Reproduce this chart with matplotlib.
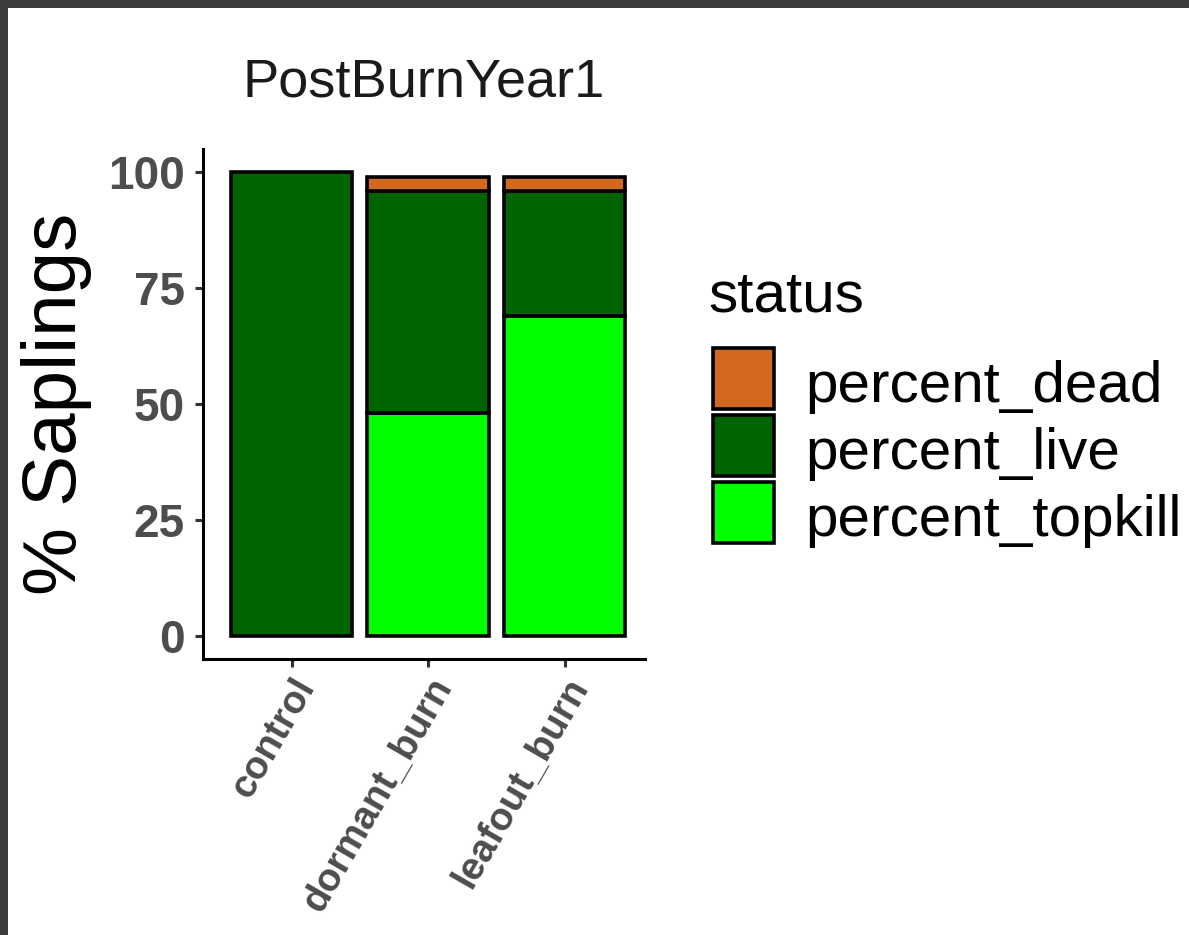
import matplotlib.pyplot as plt
from matplotlib.patches import Rectangle
import numpy as np

plt.rcParams['font.family'] = ['Liberation Sans', 'DejaVu Sans']

treatments = ["control", "dormant_burn", "leafout_burn"]
percent_topkill = [0, 48, 69]
percent_live = [100, 48, 27]
percent_dead = [0, 3, 3]

statuses = ["percent_dead", "percent_live", "percent_topkill"]
colours = {"percent_dead": "#D2691E", "percent_live": "#006400", "percent_topkill": "#00FF00"}

W, H = 1189, 935
fig = plt.figure(figsize=(W / 100, H / 100), dpi=100)

# screenshot frame (dark band top and left)
fig.patches.append(Rectangle((0, 1 - 8 / H), 1, 8 / H, transform=fig.transFigure,
                             facecolor="#3d3d3d", edgecolor="none", zorder=-1))
fig.patches.append(Rectangle((0, 0), 8 / W, 1, transform=fig.transFigure,
                             facecolor="#3d3d3d", edgecolor="none", zorder=-1))

ax = fig.add_axes([203 / W, 1 - 659 / H, 442 / W, 510 / H])

x = np.arange(len(treatments))
bottom = np.zeros(len(treatments))
stack = [("percent_topkill", percent_topkill), ("percent_live", percent_live), ("percent_dead", percent_dead)]
for name, vals in stack:
    vals = np.array(vals, dtype=float)
    keep = vals > 0
    ax.bar(x[keep], vals[keep], bottom=bottom[keep], width=0.89, color=colours[name],
           edgecolor="black", linewidth=2.6, zorder=2)
    bottom = bottom + vals

ax.set_xlim(-0.65, len(treatments) - 0.41)
ax.set_ylim(-5, 105)
ax.set_yticks([0, 25, 50, 75, 100])
ax.set_xticks(x)
ax.set_xticklabels(treatments, rotation=60, ha="right", va="top", rotation_mode="anchor")

for s in ["top", "right"]:
    ax.spines[s].set_visible(False)
for s in ["left", "bottom"]:
    ax.spines[s].set_linewidth(2.2)
    ax.spines[s].set_color("black")

ax.tick_params(axis="both", length=6, width=2.2, color="#333333", labelcolor="#4d4d4d")
ax.tick_params(axis="y", pad=7, labelsize=33)
ax.tick_params(axis="x", pad=3, labelsize=28)
for lab in ax.get_xticklabels() + ax.get_yticklabels():
    lab.set_fontweight("bold")

ax.set_ylabel("% Saplings", fontsize=55, labelpad=12, color="black")
ax.set_title("PostBurnYear1", fontsize=39, pad=38, color="#1a1a1a")

# legend, laid out like ggplot's guide box
def px(xp, yp):
    return xp / W, 1 - yp / H

fig.text(*px(708, 312), "status", fontsize=42, ha="left", va="baseline")
for i, s in enumerate(statuses):
    top = 348 + 67 * i
    fig.patches.append(Rectangle(px(713, top + 61), 61 / W, 61 / H, transform=fig.transFigure,
                                 facecolor=colours[s], edgecolor="black", linewidth=2.6))
    fig.text(*px(805, top + 54), s, fontsize=42, ha="left", va="baseline")

fig.savefig("out.png", dpi=100)
